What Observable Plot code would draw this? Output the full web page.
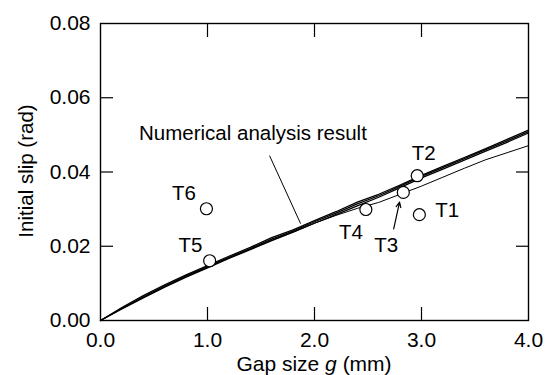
<!DOCTYPE html>
<html><head><meta charset="utf-8">
<script src="https://cdn.jsdelivr.net/npm/d3@7"></script>
<script src="https://cdn.jsdelivr.net/npm/@observablehq/plot@0.6"></script>
<style>body{margin:0;background:#fff;} #chart svg{display:block;}</style>
</head><body><div id="chart"></div>
<script>
// Gap size (mm) sample points of the numerical analysis curves
const gapSize = [0,0.2,0.4,0.6,0.8,1.0,1.2,1.4,1.6,1.8,2.0,2.2,2.4,2.6,2.8,3.0,3.2,3.4,3.6,3.8,4.0];
// Numerical analysis results (rad)
const simA = [0,0.0033,0.0064,0.0093,0.0120,0.0145,0.0170,0.0194,0.0219,0.0241,0.0266,0.0289,0.0314,0.0336,0.0362,0.0388,0.0412,0.0436,0.0460,0.0484,0.0509];
const simB = [0,0.0035,0.0067,0.0096,0.0123,0.0148,0.0173,0.0197,0.0223,0.0244,0.0269,0.0293,0.0319,0.0340,0.0365,0.0391,0.0415,0.0439,0.0463,0.0488,0.0513];
const simC = [0,0.0031,0.0061,0.0090,0.0117,0.0142,0.0167,0.0191,0.0215,0.0238,0.0262,0.0285,0.0309,0.0332,0.0358,0.0384,0.0408,0.0432,0.0456,0.0480,0.0505];
const simD = [0,0.0032,0.0062,0.0091,0.0118,0.0143,0.0168,0.0192,0.0216,0.0238,0.0262,0.0283,0.0302,0.0318,0.0340,0.0362,0.0386,0.0410,0.0433,0.0452,0.0471];
// Test specimens
const testNames = ["T1","T2","T3","T4","T5","T6"];
const testGap = [2.98,2.96,2.83,2.48,1.02,0.99];
const testSlip = [0.0285,0.0390,0.0345,0.0299,0.0161,0.0301];
// Label positions (data units)
const labelGap = [3.24,3.02,2.67,2.34,0.84,0.78];
const labelSlip = [0.0296,0.0449,0.0202,0.0238,0.0202,0.0341];
// Tick values
const xTicks = [0,1,2,3,4];
const yTicks = [0,0.02,0.04,0.06,0.08];
const xInner = [1,2,3];
const yInner = [0.02,0.04,0.06];
// Annotation
const noteText = "Numerical analysis result";
const noteAt = [0.36,0.0503];
const leader = [1.58,0.0444,1.87,0.0261];
const t3Arrow = [2.74,0.0247,2.795,0.0319];

const sims = [simA, simB, simC, simD];
const simRows = sims.flatMap((s,k) => s.map((v,i) => ({g: gapSize[i], s: v, k})));
const tests = testNames.map((n,i) => ({n, g: testGap[i], s: testSlip[i], lg: labelGap[i], ls: labelSlip[i]}));

const FS = 20.5, TFS = 21;
const chart = Plot.plot({
  width: 552, height: 375,
  marginLeft: 100, marginRight: 24, marginTop: 23, marginBottom: 55,
  style: {fontFamily: "'Liberation Sans', Arial, sans-serif", fontSize: FS+"px", color: "#000", background: "#fff"},
  x: {domain: [0,4]},
  y: {domain: [0,0.08]},
  marks: [
    Plot.line(simRows.filter(d => d.k < 3), {x: "g", y: "s", z: "k", stroke: "#000", strokeWidth: 1.3}),
    Plot.line(simRows.filter(d => d.k === 3), {x: "g", y: "s", stroke: "#000", strokeWidth: 1}),
    Plot.dot(tests, {x: "g", y: "s", r: 6, fill: "#fff", stroke: "#000", strokeWidth: 1.2}),
    Plot.text(tests, {x: "lg", y: "ls", text: "n", fontSize: FS, fill: "#000"}),
    Plot.text([noteText], {x: () => noteAt[0], y: () => noteAt[1], text: d => d, textAnchor: "start", fontSize: FS, fill: "#000"}),
    Plot.link([leader], {x1: d => d[0], y1: d => d[1], x2: d => d[2], y2: d => d[3], stroke: "#000", strokeWidth: 1}),
    Plot.arrow([t3Arrow], {x1: d => d[0], y1: d => d[1], x2: d => d[2], y2: d => d[3], stroke: "#000", strokeWidth: 1.2, headLength: 7, headAngle: 50}),
    Plot.frame({stroke: "#000", strokeWidth: 1.4}),
    Plot.axisX({anchor: "bottom", ticks: xTicks, tickSize: 0, tickPadding: 12, tickFormat: d3.format(".1f"), fontSize: TFS, label: null}),
    Plot.axisY({anchor: "left", ticks: yTicks, tickSize: 0, tickPadding: 10, tickFormat: d3.format(".2f"), fontSize: TFS, label: null}),
    Plot.axisX({anchor: "bottom", ticks: xInner, tickSize: 13, dy: -13, tickFormat: () => "", label: null, strokeWidth: 1.2}),
    Plot.axisX({anchor: "top", ticks: xInner, tickSize: 13, dy: 13, tickFormat: () => "", label: null, strokeWidth: 1.2}),
    Plot.axisY({anchor: "left", ticks: yInner, tickSize: 13, dx: 13, tickFormat: () => "", label: null, strokeWidth: 1.2}),
    Plot.axisY({anchor: "right", ticks: yInner, tickSize: 13, dx: -13, tickFormat: () => "", label: null, strokeWidth: 1.2})
  ]
});

// Axis titles
const svg = d3.select(chart);
const xt = svg.append("text").attr("x", 314).attr("y", 371).attr("text-anchor", "middle")
  .attr("font-size", 21).attr("fill", "#000");
xt.append("tspan").text("Gap size ");
xt.append("tspan").attr("font-style", "italic").text("g");
xt.append("tspan").text(" (mm)");
svg.append("text").attr("transform", "translate(33,171) rotate(-90)").attr("text-anchor", "middle")
  .attr("font-size", FS).attr("fill", "#000").text("Initial slip (rad)");

document.getElementById("chart").append(chart);
</script>
</body></html>
